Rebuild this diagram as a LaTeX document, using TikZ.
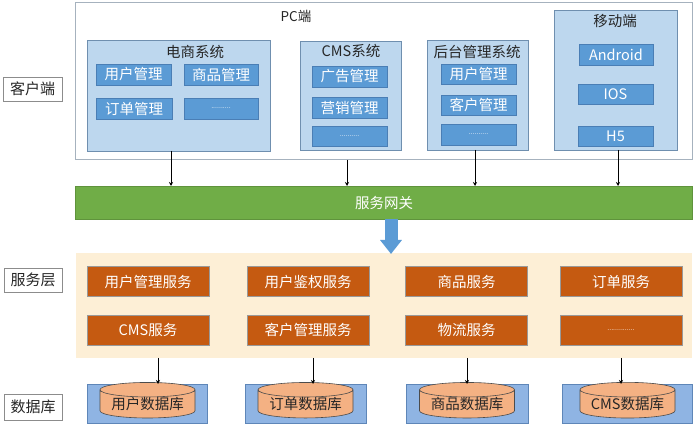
\documentclass[tikz,border=0pt]{standalone}
\usepackage{fontspec}
\setmainfont{Noto Sans CJK SC}
\usetikzlibrary{shapes.geometric,arrows.meta}
\definecolor{frameg}{HTML}{A6B2BE}
\definecolor{sysfill}{HTML}{BDD7EE}
\definecolor{sysdraw}{HTML}{6F8FAF}
\definecolor{itemfill}{HTML}{5B9BD5}
\definecolor{itemdraw}{HTML}{4A7EB5}
\definecolor{gwgreen}{HTML}{70AD47}
\definecolor{peach}{HTML}{FDEFD6}
\definecolor{svcorange}{HTML}{C55A11}
\definecolor{dbblue}{HTML}{8FB4E3}
\definecolor{dbdraw}{HTML}{5E86B8}
\definecolor{cylfill}{HTML}{F4B183}
\definecolor{arrblue}{HTML}{5B9BD5}
\tikzset{
  box/.style={rectangle, inner sep=0pt, outer sep=0pt},
  framebox/.style={box, draw=frameg, line width=1pt, fill=white},
  sysbox/.style={box, draw=sysdraw, line width=0.8pt, fill=sysfill},
  itembox/.style={box, fill=itemfill, draw=itemdraw, line width=0.4pt, text=white, font=\fontsize{14.5}{15}\selectfont},
  title/.style={inner sep=0pt, font=\fontsize{14.5}{15}\selectfont, text=black!85},
  lab/.style={box, draw=black!45, line width=0.6pt, fill=white, font=\fontsize{15}{16}\selectfont, text=black!85},
  svcbox/.style={box, fill=svcorange, draw=black!40, line width=0.5pt, text=white, font=\fontsize{14.5}{15}\selectfont, minimum width=122, minimum height=30},
  dbbox/.style={box, fill=dbblue, draw=dbdraw, line width=0.6pt},
  cyl/.style={cylinder, shape border rotate=90, aspect=0.2, draw=black!70, line width=0.6pt, fill=cylfill, inner sep=0pt, outer sep=0pt, font=\fontsize{14.5}{15}\selectfont, text=black!85},
  conn/.style={draw=black, line width=0.7pt, -{Stealth[length=4pt,width=4pt]}},
  dots/.style={font=\fontsize{7}{8}\selectfont}
}
\begin{document}
\begin{tikzpicture}[x=1pt,y=-1pt]
\useasboundingbox (0,0) rectangle (699,427);
% client side frame
\node[framebox, minimum width=617, minimum height=157] (pc) at (383.5,81.5) {};
\node[title, font=\fontsize{13.5}{14}\selectfont] (pct) at (296,16) {PC端};
% left labels
\node[lab, minimum width=59, minimum height=24] (lc) at (32.5,89) {客户端};
\node[lab, minimum width=58, minimum height=24] (ls) at (33,280) {服务层};
\node[lab, minimum width=58, minimum height=26] (ld) at (33,407) {数据库};
% 电商系统
\node[sysbox, minimum width=183, minimum height=111] (ds) at (178.5,95.5) {};
\node[title] (dst) at (195,52) {电商系统};
\node[itembox, minimum width=75, minimum height=21] (ds1) at (133.5,74.5) {用户管理};
\node[itembox, minimum width=74, minimum height=21] (ds2) at (221,74.5) {商品管理};
\node[itembox, minimum width=76, minimum height=21] (ds3) at (134,108.5) {订单管理};
\node[itembox, minimum width=74, minimum height=21, dots] (ds4) at (221,108.5) {..........};
% CMS系统
\node[sysbox, minimum width=101, minimum height=109] (cms) at (350.5,95.5) {};
\node[title] (cmst) at (351,51) {CMS系统};
\node[itembox, minimum width=75, minimum height=21] (cms1) at (349.5,76.5) {广告管理};
\node[itembox, minimum width=75, minimum height=21] (cms2) at (349.5,107.5) {营销管理};
\node[itembox, minimum width=75, minimum height=20, dots] (cms3) at (349.5,136) {..........};
% 后台管理系统
\node[sysbox, minimum width=101, minimum height=110] (ht) at (477.5,95) {};
\node[title] (htt) at (477,52) {后台管理系统};
\node[itembox, minimum width=75, minimum height=20] (ht1) at (478.5,74) {用户管理};
\node[itembox, minimum width=75, minimum height=20] (ht2) at (478.5,105) {客户管理};
\node[itembox, minimum width=75, minimum height=21, dots] (ht3) at (478.5,134.5) {..........};
% 移动端
\node[sysbox, minimum width=123, minimum height=140] (mb) at (615.5,80) {};
\node[title] (mbt) at (615,21) {移动端};
\node[itembox, minimum width=74, minimum height=21] (mb1) at (616,54.5) {Android};
\node[itembox, minimum width=75, minimum height=20] (mb2) at (615.5,94) {IOS};
\node[itembox, minimum width=75, minimum height=20] (mb3) at (615.5,136) {H5};
% gateway
\node[box, fill=gwgreen, draw=gwgreen!85!black, line width=0.5pt, minimum width=617, minimum height=33, text=white, font=\fontsize{14.5}{15}\selectfont] (gw) at (383.5,202.5) {\hspace*{1pt}服务网关};
\coordinate (gwa) at (171,186);
\coordinate (gwb) at (347,186);
\coordinate (gwc) at (475,186);
\coordinate (gwd) at (618,186);
\draw[conn] (ds.south -| gwa) -- (gwa);
\draw[conn] (pc.south -| gwb) -- (gwb);
\draw[conn] (ht.south -| gwc) -- (gwc);
\draw[conn] (mb.south -| gwd) -- (gwd);
% service layer
\node[box, fill=peach, minimum width=616, minimum height=105] (svc) at (384,305.5) {};
\coordinate (bat) at (391,219);
\coordinate (bab) at (391,254);
\draw[arrblue, line width=13pt, -{Triangle[length=14pt,width=21pt]}] (bat) -- (bab);
\node[svcbox] (s1) at (148,281.5) {用户管理服务};
\node[svcbox] (s2) at (308,281.5) {用户鉴权服务};
\node[svcbox] (s3) at (466.5,281.5) {商品服务};
\node[svcbox] (s4) at (621,281.5) {订单服务};
\node[svcbox] (s5) at (148,330) {CMS服务};
\node[svcbox] (s6) at (308,330) {客户管理服务};
\node[svcbox] (s7) at (466.5,330) {物流服务};
\node[svcbox, dots] (s8) at (621,330) {..............};
% databases
\node[dbbox, minimum width=120, minimum height=39] (d1) at (147,403.5) {};
\node[dbbox, minimum width=121, minimum height=39] (d2) at (305.5,403.5) {};
\node[dbbox, minimum width=122, minimum height=39] (d3) at (467,403.5) {};
\node[dbbox, minimum width=130, minimum height=39] (d4) at (627,403.5) {};
\node[cyl, minimum width=95, minimum height=33] (c1) at (147.5,404) {用户数据库};
\node[cyl, minimum width=95, minimum height=33] (c2) at (305.5,404) {订单数据库};
\node[cyl, minimum width=95, minimum height=33] (c3) at (467,404) {商品数据库};
\node[cyl, minimum width=95, minimum height=33] (c4) at (627.5,404) {CMS数据库};
\draw[conn] (svc.south -| 158,0) -- (d1.north -| 158,0);
\draw[conn] (svc.south -| 313,0) -- (d2.north -| 313,0);
\draw[conn] (svc.south -| 467,0) -- (d3.north -| 467,0);
\draw[conn] (svc.south -| 621,0) -- (d4.north -| 621,0);
\end{tikzpicture}
\end{document}
